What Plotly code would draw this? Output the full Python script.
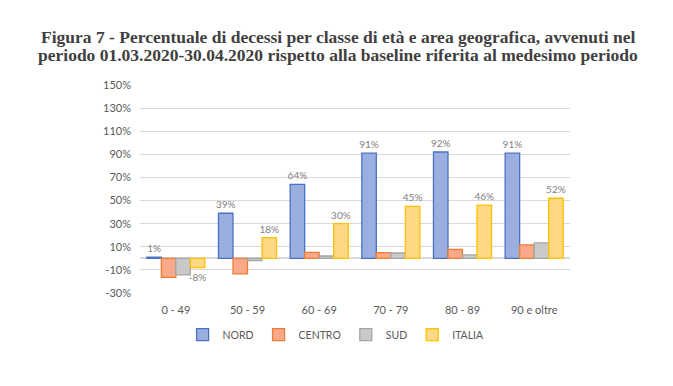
import plotly.graph_objects as go

categories = ["0 - 49", "50 - 59", "60 - 69", "70 - 79", "80 - 89", "90 e oltre"]
nord = [1, 39, 64, 91, 92, 91]
centro = [-16.5, -13.5, 5.2, 5.0, 7.8, 11.6]
sud = [-14.4, -2, 2, 4.6, 3, 13.3]
italia = [-8, 18, 30, 45, 46, 52]
tick_vals = [-30, -10, 10, 30, 50, 70, 90, 110, 130, 150]
tick_text = [f"{v}%" for v in tick_vals]
title_lines = [
    "Figura 7 - Percentuale di decessi per classe di età e area geografica, avvenuti nel",
    "periodo 01.03.2020-30.04.2020 rispetto alla baseline riferita al medesimo periodo",
]

series = [
    ("NORD", nord, "#9BAEE0", "#4A72C4", True),
    ("CENTRO", centro, "#F9A98A", "#ED7D31", False),
    ("SUD", sud, "#C9C9C9", "#A5A5A5", False),
    ("ITALIA", italia, "#FFD886", "#FFC000", True),
]

fig = go.Figure()
for name, vals, fill, line, labels in series:
    fig.add_trace(go.Bar(
        x=categories, y=vals, name=name,
        marker=dict(color=fill, line=dict(color=line, width=1.3)),
        text=[f"{v:.0f}%" for v in vals] if labels else None,
        textposition="outside" if labels else "none",
        cliponaxis=False,
        textfont=dict(family="Lato, sans-serif", size=10, color="#7F7F7F"),
    ))

for i, line_text in enumerate(title_lines):
    fig.add_annotation(
        text=f"<b>{line_text}</b>", xref="paper", yref="paper",
        x=0.4616, y=1.2308 - i * 0.0865, xanchor="center", yanchor="middle",
        showarrow=False,
        font=dict(family="Liberation Serif, serif", size=17.5, color="#404040"),
    )

fig.update_layout(
    width=665, height=378,
    paper_bgcolor="white", plot_bgcolor="white",
    barmode="group", bargap=0.19, bargroupgap=0,
    margin=dict(l=132, r=103, t=77, b=93, autoexpand=False),
    font=dict(family="Lato, sans-serif", color="#595959", size=11),
    legend=dict(orientation="h", x=0.456, xanchor="center", y=-0.13, yanchor="top",
                font=dict(size=10.5, color="#595959"), traceorder="normal",
                itemwidth=30),
    uniformtext=dict(mode="show", minsize=10),
)
fig.update_xaxes(showgrid=False, showline=False, ticks="", ticklabelstandoff=9,
                 tickfont=dict(size=11, color="#595959"))
fig.update_yaxes(range=[-30, 150], tickvals=tick_vals, ticktext=tick_text,
                 showgrid=True, gridcolor="#D9D9D9", gridwidth=1,
                 zeroline=True, zerolinecolor="#D9D9D9", zerolinewidth=1.5,
                 showline=False, ticks="", ticklabelstandoff=8,
                 tickfont=dict(size=11, color="#595959"))

fig.write_html("out.html")
